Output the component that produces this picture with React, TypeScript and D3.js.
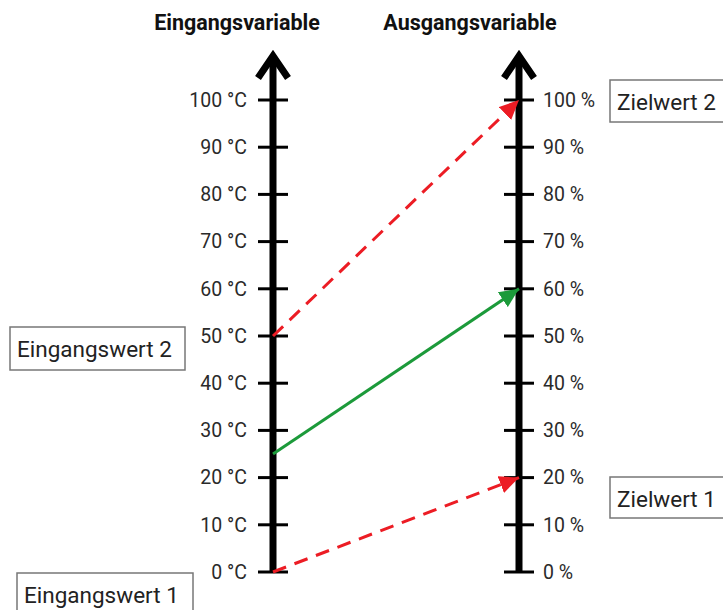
import React from "react";
import * as d3 from "d3";

const tickValues = [0, 10, 20, 30, 40, 50, 60, 70, 80, 90, 100];
const inputUnit = "°C";
const outputUnit = "%";
const axisTitles = ["Eingangsvariable", "Ausgangsvariable"];
const mapFrom = [0, 25, 50];
const mapTo = [20, 60, 100];
const mapKinds = ["dashed", "solid", "dashed"];
const boxLabels = ["Eingangswert 1", "Eingangswert 2", "Zielwert 1", "Zielwert 2"];
const boxValues = [0, 50, 20, 100];

const W = 723;
const H = 610;
const RED = "#ec1c24";
const GREEN = "#1c9a3a";
const FONT = "Roboto, 'Noto Sans', sans-serif";

export default function App() {
  const y = d3.scaleLinear().domain([0, 100]).range([572, 100]);
  const xL = 273;
  const xR = 519;
  const axisTop = 54;

  const arrowHead = (x: number) =>
    `M${x - 15},${axisTop + 24} L${x},${axisTop + 2} L${x + 15},${axisTop + 24}`;

  const line = d3.line<[number, number]>().x((d) => d[0]).y((d) => d[1]);

  return (
    <svg width={W} height={H} style={{ position: "absolute", left: 0, top: 0, background: "#fff" }}>
      <defs>
        <marker id="arrRed" viewBox="0 0 12 11" refX="12" refY="5.5" markerWidth="6.5" markerHeight="6" orient="auto" markerUnits="strokeWidth">
          <path d="M0,0 L12,5.5 L0,11 z" fill={RED} />
        </marker>
        <marker id="arrGreen" viewBox="0 0 12 11" refX="12" refY="5.5" markerWidth="6.5" markerHeight="6" orient="auto" markerUnits="strokeWidth">
          <path d="M0,0 L12,5.5 L0,11 z" fill={GREEN} />
        </marker>
      </defs>

      {/* titles */}
      <text x={237} y={30} textAnchor="middle" fontFamily={FONT} fontWeight="bold" fontSize={21.5} fill="#111">
        {axisTitles[0]}
      </text>
      <text x={470} y={30} textAnchor="middle" fontFamily={FONT} fontWeight="bold" fontSize={21.5} fill="#111">
        {axisTitles[1]}
      </text>

      {/* axes */}
      {[xL, xR].map((x, i) => (
        <g key={i}>
          <line x1={x} x2={x} y1={y(0)} y2={axisTop + 4} stroke="#000" strokeWidth={7} />
          <path d={arrowHead(x)} fill="none" stroke="#000" strokeWidth={7} strokeLinejoin="miter" />
          {tickValues.map((t) => (
            <line key={t} x1={x - 15} x2={x + 15} y1={y(t)} y2={y(t)} stroke="#000" strokeWidth={3} />
          ))}
        </g>
      ))}

      {/* tick labels */}
      {tickValues.map((t) => (
        <text key={"l" + t} x={247} y={y(t)} dy="0.35em" textAnchor="end" fontFamily={FONT} fontSize={19.5} fill="#2a2a2a">
          {`${t} ${inputUnit}`}
        </text>
      ))}
      {tickValues.map((t) => (
        <text key={"r" + t} x={543} y={y(t)} dy="0.35em" textAnchor="start" fontFamily={FONT} fontSize={19.5} fill="#2a2a2a">
          {`${t} ${outputUnit}`}
        </text>
      ))}

      {/* mapping arrows */}
      {mapFrom.map((f, i) => {
        const dashed = mapKinds[i] === "dashed";
        const color = dashed ? RED : GREEN;
        return (
          <path
            key={"m" + i}
            d={line([[xL, y(f)], [xR, y(mapTo[i])]]) || ""}
            fill="none"
            stroke={color}
            strokeWidth={3}
            strokeDasharray={dashed ? "14 9" : undefined}
            markerEnd={dashed ? "url(#arrRed)" : "url(#arrGreen)"}
          />
        );
      })}

      {/* boxes */}
      {[
        { x: 17, y: 573, w: 176, h: 44 },
        { x: 10, y: 327, w: 175, h: 43 },
        { x: 610, y: 477, w: 130, h: 41 },
        { x: 610, y: 80, w: 130, h: 42 },
      ].map((b, i) => (
        <g key={"b" + i} data-value={boxValues[i]}>
          <rect x={b.x} y={b.y} width={b.w} height={b.h} fill="#fff" stroke="#777" strokeWidth={1.5} />
          <text x={b.x + 7} y={b.y + 22} dy="0.35em" fontFamily={FONT} fontSize={22.5} fill="#222">
            {boxLabels[i]}
          </text>
        </g>
      ))}
    </svg>
  );
}
